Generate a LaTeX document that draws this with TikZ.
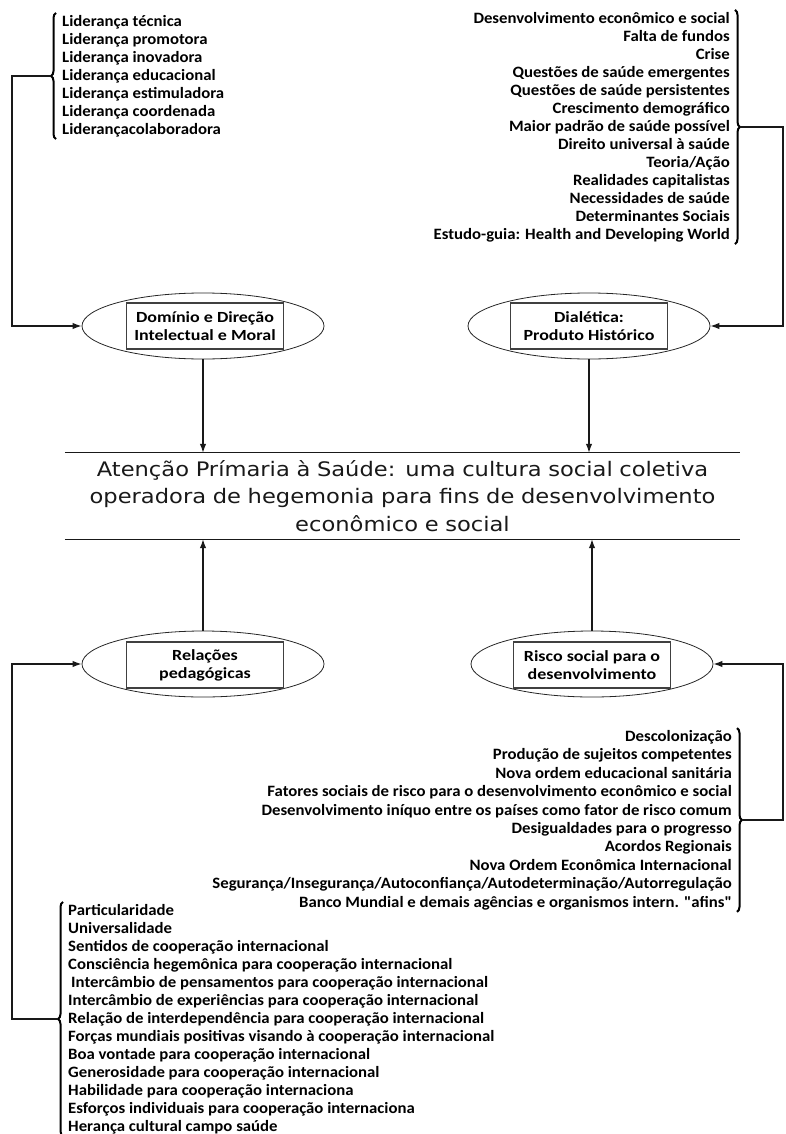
\documentclass[tikz,border=0pt]{standalone}
\usepackage{fontspec}
\setmainfont{Carlito}
\newfontfamily\listfont[FakeStretch=1.06]{Carlito}
\newfontfamily\lblfont[FakeStretch=1.16]{Carlito}
\newfontfamily\corefont[FakeStretch=1.13]{DejaVu Sans}
\usetikzlibrary{shapes.geometric,arrows.meta,decorations.pathreplacing,calc}
\tikzset{
  listtxt/.style={font=\listfont\fontsize{15.8}{18}\selectfont\bfseries, inner sep=0pt, text=black},
  ell/.style={ellipse, draw=black!85, line width=0.8pt, minimum width=242pt, minimum height=66pt, inner sep=0pt},
  lbl/.style={rectangle, draw=black!75, line width=1.2pt, minimum width=157pt, minimum height=46pt, align=center, font=\lblfont\fontsize{15.5}{18}\selectfont\bfseries, inner sep=0pt},
  conn/.style={line width=1.3pt, draw=black!90},
  arr/.style={conn, -{Latex[length=9pt,width=6.5pt]}},
  brc/.style={decorate, decoration={brace, amplitude=5pt}, line width=2pt},
  coretxt/.style={font=\corefont\fontsize{20}{27.5}\selectfont, text width=675pt, align=center, minimum height=86pt, inner xsep=0pt, inner ysep=0pt, text=black!90}
}
\begin{document}
\begin{tikzpicture}[x=1pt,y=1pt]
\useasboundingbox (0,0) rectangle (785,-1134);
\coordinate (L) at (12,0);
\coordinate (R) at (783,0);

% ellipses with labelled boxes
\node[ell] (e1) at (203,-326) {};
\node[lbl] (b1) at (205,-326) {Domínio e Direção\\Intelectual e Moral};
\node[ell] (e2) at (589,-326) {};
\node[lbl] (b2) at (589,-326) {Dialética:\\Produto Histórico};
\node[ell] (e3) at (203,-664) {};
\node[lbl] (b3) at (205,-665) {Relações\\pedagógicas};
\node[ell] (e4) at (592,-664) {};
\node[lbl] (b4) at (592,-665) {Risco social para o\\desenvolvimento};

% central statement
\node[coretxt] (core) at (402.5,-496) {Atenção Prímaria à Saúde: uma cultura social coletiva\\operadora de hegemonia para fins de desenvolvimento\\econômico e social};
\draw[conn] (core.north west) -- (core.north east);
\draw[conn] (core.south west) -- (core.south east);

% lists
\node[listtxt, align=left, anchor=west] (tl) at (62,-76) {Liderança técnica\\Liderança promotora\\Liderança inovadora\\Liderança educacional\\Liderança estimuladora\\Liderança coordenada\\Liderançacolaboradora};
\node[listtxt, align=right, anchor=east] (tr) at (730,-127) {Desenvolvimento econômico e social\\Falta de fundos\\Crise\\Questões de saúde emergentes\\Questões de saúde persistentes\\Crescimento demográfico\\Maior padrão de saúde possível\\Direito universal à saúde\\Teoria/Ação\\Realidades capitalistas\\Necessidades de saúde\\Determinantes Sociais\\Estudo-guia: Health and Developing World};
\node[listtxt, align=right, anchor=east, font=\listfont\fontsize{15.8}{18.4}\selectfont\bfseries] (br) at (732,-820) {Descolonização\\Produção de sujeitos competentes\\Nova ordem educacional sanitária\\Fatores sociais de risco para o desenvolvimento econômico e social\\Desenvolvimento iníquo entre os países como fator de risco comum\\Desigualdades para o progresso\\Acordos Regionais\\Nova Ordem Econômica Internacional\\Segurança/Insegurança/Autoconfiança/Autodeterminação/Autorregulação\\Banco Mundial e demais agências e organismos intern. "afins"};
\node[listtxt, align=left, anchor=west] (bl) at (68,-1019) {Particularidade\\Universalidade\\Sentidos de cooperação internacional\\Consciência hegemônica para cooperação internacional\\\hspace*{3pt}Intercâmbio de pensamentos para cooperação internacional\\Intercâmbio de experiências para cooperação internacional\\Relação de interdependência para cooperação internacional\\Forças mundiais positivas visando à cooperação internacional\\Boa vontade para cooperação internacional\\Generosidade para cooperação internacional\\Habilidade para cooperação internaciona\\Esforços individuais para cooperação internaciona\\Herança cultural campo saúde};

% braces
\draw[brc] ([xshift=-6pt,yshift=-2pt]tl.south west) -- ([xshift=-6pt,yshift=2pt]tl.north west);
\coordinate (tltip) at ($(tl.west)+(-12pt,0)$);
\draw[brc] ([xshift=5pt,yshift=2pt]tr.north east) -- ([xshift=5pt,yshift=-2pt]tr.south east);
\coordinate (trtip) at ($(tr.east)+(11pt,0)$);
\draw[brc] ([xshift=5pt,yshift=2pt]br.north east) -- ([xshift=5pt,yshift=-2pt]br.south east);
\coordinate (brtip) at ($(br.east)+(11pt,0)$);
\draw[brc] ([xshift=-5pt,yshift=-2pt]bl.south west) -- ([xshift=-5pt,yshift=2pt]bl.north west);
\coordinate (bltip) at ($(bl.west)+(-11pt,0)$);

% connectors
\draw[arr] (tltip) -- (tltip -| L) |- (e1.west);
\draw[arr] (trtip) -- (trtip -| R) |- (e2.east);
\draw[arr] (bltip) -- (bltip -| L) |- (e3.west);
\draw[arr] (brtip) -- (brtip -| R) |- (e4.east);
\draw[arr] (e1.south) -- (e1.south |- core.north);
\draw[arr] (e2.south) -- (e2.south |- core.north);
\draw[arr] (e3.north) -- (e3.north |- core.south);
\draw[arr] (e4.north) -- (e4.north |- core.south);
\end{tikzpicture}
\end{document}
